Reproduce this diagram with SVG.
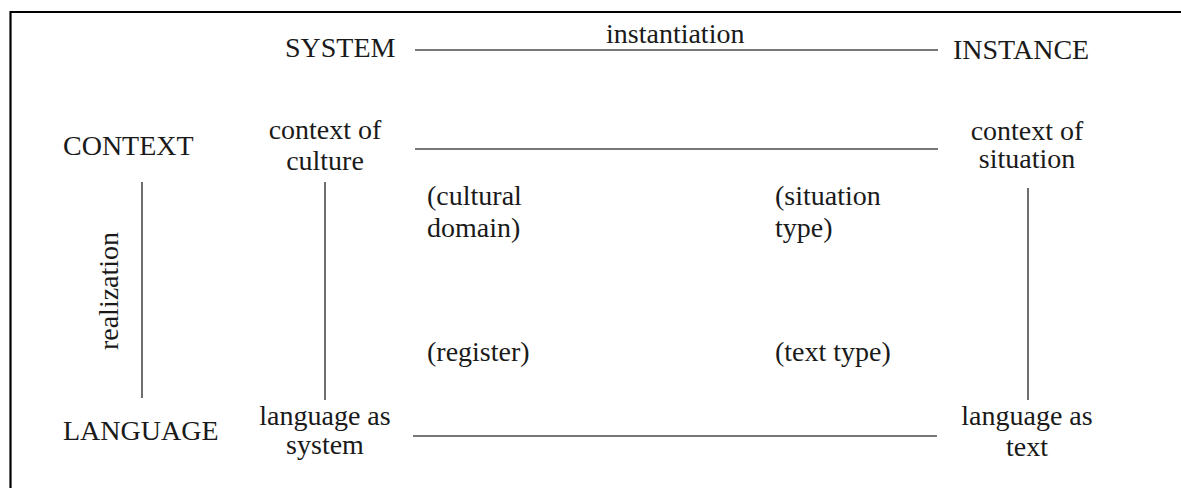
<svg xmlns="http://www.w3.org/2000/svg" width="1181" height="488" viewBox="0 0 1181 488">
  <style>
    .t { font-family: "Liberation Serif", "Times New Roman", serif; font-size: 28px; fill: #1a1a1a; }
    .c { text-anchor: middle; }
    .ln { stroke: #4a4a4a; stroke-width: 1.6; fill: none; }
    .frame { stroke: #000; stroke-width: 2.2; fill: none; }
  </style>
  <rect width="1181" height="488" fill="#fff"/>
  <!-- open frame: left and top edges -->
  <path class="frame" d="M10.5,488 V12 H1181"/>

  <!-- axis headings -->
  <g id="system"><text class="t" x="285" y="57">SYSTEM</text></g>
  <g id="instance"><text class="t" x="953" y="59">INSTANCE</text></g>
  <g id="context"><text class="t" x="63" y="155">CONTEXT</text></g>
  <g id="language"><text class="t" x="63" y="440">LANGUAGE</text></g>

  <!-- corner nodes -->
  <g id="context-of-culture">
    <text class="t c" x="325" y="139">context of</text>
    <text class="t c" x="325" y="170">culture</text>
  </g>
  <g id="context-of-situation">
    <text class="t c" x="1027" y="140">context of</text>
    <text class="t c" x="1027" y="168">situation</text>
  </g>
  <g id="language-as-system">
    <text class="t c" x="325" y="425">language as</text>
    <text class="t c" x="325" y="454">system</text>
  </g>
  <g id="language-as-text">
    <text class="t c" x="1027" y="425">language as</text>
    <text class="t c" x="1027" y="456">text</text>
  </g>

  <!-- intermediate nodes -->
  <g id="cultural-domain">
    <text class="t" x="427" y="205">(cultural</text>
    <text class="t" x="427" y="237">domain)</text>
  </g>
  <g id="situation-type">
    <text class="t" x="775" y="205">(situation</text>
    <text class="t" x="775" y="237">type)</text>
  </g>
  <g id="register"><text class="t" x="427" y="361">(register)</text></g>
  <g id="text-type"><text class="t" x="775" y="361">(text type)</text></g>

  <!-- connectors -->
  <g id="connectors">
    <line class="ln" x1="415" y1="50" x2="938" y2="50"/>
    <line class="ln" x1="415" y1="149" x2="938" y2="149"/>
    <line class="ln" x1="413" y1="436" x2="937" y2="436"/>
    <line class="ln" x1="142" y1="182" x2="142" y2="398"/>
    <line class="ln" x1="325" y1="182" x2="325" y2="400"/>
    <line class="ln" x1="1028" y1="188" x2="1028" y2="400"/>
  </g>

  <!-- axis labels -->
  <g id="instantiation-label"><text class="t" x="606" y="43">instantiation</text></g>
  <g id="realization-label"><text class="t c" transform="translate(118,291) rotate(-90)" x="0" y="0">realization</text></g>
</svg>
